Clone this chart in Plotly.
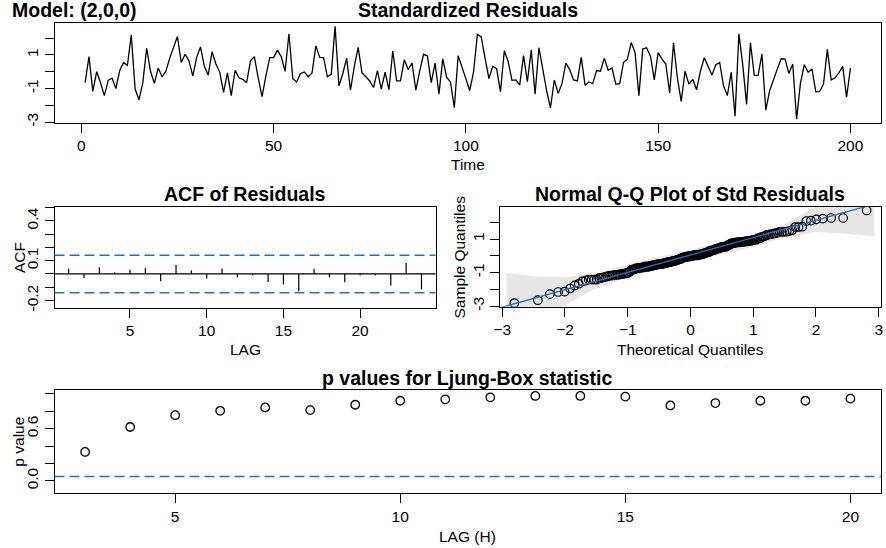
import numpy as np
import plotly.graph_objects as go
from statistics import NormalDist

# standardized residuals (t = 1..200)
resid = [
    -0.65, 0.90, -1.17, 0.00, -0.65, -1.42, -0.51, -0.38, -1.00, 0.07,
    0.55, 0.38, 2.18, -1.03, -1.67, -0.65, 1.39, 0.03, -0.69, 0.22,
    -0.30, 0.03, 0.81, 1.43, 2.10, 0.55, 1.04, 0.65, -0.26, 0.86,
    1.48, 0.32, -0.20, 1.19, 0.46, -0.03, -1.23, -0.07, -1.42, 0.09,
    -0.36, -0.45, -0.65, 0.65, 0.90, -0.36, -1.48, -0.26, 0.84, 0.84,
    1.29, 0.90, 0.03, 2.26, -0.41, -0.61, -0.10, -0.01, -0.30, -0.07,
    1.54, 0.86, 0.84, -0.30, -0.16, 2.71, -0.84, -0.12, 0.81, -1.09,
    0.32, 1.45, -0.07, -0.30, -0.55, -0.94, 0.07, -1.03, -0.03, -1.07,
    1.25, -0.55, -0.55, 0.71, 0.13, 0.52, -1.09, 0.03, 1.04, 0.94,
    -0.65, 0.52, -1.33, 0.77, -0.32, -0.61, -2.14, 0.96, 0.32, -0.41,
    -1.13, -0.03, 2.22, 2.07, 0.81, -0.41, 0.32, 0.19, -1.19, 1.25,
    0.61, -0.51, -0.49, -0.80, 0.96, -0.59, 1.29, -1.33, 1.43, 0.13,
    -1.13, -2.16, -0.49, -1.29, -0.71, 0.52, 0.13, -0.49, -0.55, 0.86,
    -0.80, -0.61, -0.71, 0.07, 0.03, 0.81, 0.09, 0.22, -0.74, -0.71,
    0.55, 0.75, 1.74, 1.15, -1.42, 1.35, 1.43, 0.94, -0.49, 1.14,
    0.75, 0.46, -1.27, 1.72, -0.36, -1.77, 0.03, -0.74, -0.45, -1.07,
    0.03, 0.84, 0.36, -0.20, 0.42, 0.55, -0.84, -1.42, -0.03, -2.65,
    2.26, 0.42, -1.95, 1.72, -0.22, -0.22, 1.06, -2.29, -1.13, -0.45,
    0.17, 0.77, 0.75, -0.10, 0.46, -2.82, -0.69, 0.42, -0.03, 0.17,
    -1.19, -1.17, -0.74, 1.33, -0.49, -0.36, -0.07, 0.32, -1.52, 0.22,
]
time = list(range(1, len(resid) + 1))

acf_lags = list(range(1, 25))
acf_vals = [0.040, -0.030, 0.050, 0.012, 0.032, 0.045, -0.055, 0.067,
            0.027, -0.035, 0.042, -0.025, -0.010, -0.060, -0.080, -0.130,
            0.040, -0.025, -0.062, -0.010, -0.010, -0.087, 0.082, -0.117]
acf_bound = 0.1414

# grey confidence band of the Q-Q plot
band_x = [-2.93, -2.5, -2.0, -1.5, -1.0, -0.5, 0.0, 0.5, 1.0, 1.5, 2.0, 2.5, 2.93]
band_hi = [-1.02, -1.22, -1.28, -1.05, -0.50, -0.05, 0.36, 0.80, 1.25, 1.90, 2.95, 3.80, 4.60]
band_lo = [-4.60, -3.80, -2.95, -1.90, -1.28, -0.80, -0.32, 0.10, 0.55, 1.10, 1.42, 1.32, 1.16]

lb_lags = list(range(3, 21))
lb_pvals = [0.333, 0.620, 0.756, 0.806, 0.845, 0.814, 0.876, 0.922, 0.938,
            0.961, 0.977, 0.977, 0.969, 0.868, 0.895, 0.922, 0.922, 0.946]
lb_level = 0.05

W, H = 886, 548
FONT = "Liberation Sans, Arial, Helvetica, sans-serif"
BLUE = "#1874CD"
TXT = 15.5   # tick labels / axis titles
TTL = 19.5   # bold panel titles


def px(x):
    return x / W


def py(y):
    return 1 - y / H


def pad(lo, hi):
    d = (hi - lo) * 0.04
    return [lo - d, hi + d]


nd = NormalDist()
n = len(resid)
theo = [nd.inv_cdf((i - 0.5) / n) for i in range(1, n + 1)]
samp = sorted(resid)
q1, q3 = np.quantile(resid, [0.25, 0.75])
z1, z3 = nd.inv_cdf(0.25), nd.inv_cdf(0.75)
slope = (q3 - q1) / (z3 - z1)
icpt = q1 - slope * z1

res_range = pad(min(resid), max(resid))
qq_xrange = pad(min(theo), max(theo))

fig = go.Figure()

# top: standardized residuals
fig.add_trace(go.Scatter(x=time, y=resid, mode="lines",
                         line=dict(color="black", width=1.3),
                         xaxis="x", yaxis="y"))

# ACF stems
sx, sy = [], []
for l, v in zip(acf_lags, acf_vals):
    sx += [l, l, None]
    sy += [0, v, None]
fig.add_trace(go.Scatter(x=sx, y=sy, mode="lines",
                         line=dict(color="black", width=1.2),
                         xaxis="x2", yaxis="y2"))

# Q-Q band, points, line
fig.add_trace(go.Scatter(x=band_x + band_x[::-1], y=band_hi + band_lo[::-1],
                         fill="toself", fillcolor="#e6e6e6", mode="lines",
                         line=dict(width=0, color="#e6e6e6"),
                         xaxis="x3", yaxis="y3"))
fig.add_trace(go.Scatter(x=theo, y=samp, mode="markers",
                         marker=dict(symbol="circle-open", size=8.5, color="black",
                                     line=dict(width=1.2)),
                         xaxis="x3", yaxis="y3"))
fig.add_trace(go.Scatter(x=qq_xrange, y=[icpt + slope * v for v in qq_xrange],
                         mode="lines", line=dict(color=BLUE, width=1.3),
                         xaxis="x3", yaxis="y3"))

# Ljung-Box p values
fig.add_trace(go.Scatter(x=lb_lags, y=lb_pvals, mode="markers",
                         marker=dict(symbol="circle-open", size=8.5, color="black",
                                     line=dict(width=1.3)),
                         xaxis="x4", yaxis="y4"))

shapes = [
    dict(type="line", xref="x2 domain", yref="y2", x0=0, x1=1, y0=0, y1=0,
         line=dict(color="black", width=1.2)),
    dict(type="line", xref="x2 domain", yref="y2", x0=0, x1=1, y0=acf_bound, y1=acf_bound,
         line=dict(color=BLUE, width=1.6, dash="10px,5px")),
    dict(type="line", xref="x2 domain", yref="y2", x0=0, x1=1, y0=-acf_bound, y1=-acf_bound,
         line=dict(color=BLUE, width=1.6, dash="10px,5px")),
    dict(type="line", xref="x4 domain", yref="y4", x0=0, x1=1, y0=lb_level, y1=lb_level,
         line=dict(color=BLUE, width=1.6, dash="10px,5px")),
]

ax = dict(showline=True, linecolor="black", linewidth=1, mirror=True,
          ticks="outside", ticklen=9, tickcolor="black", tickwidth=1,
          showgrid=False, zeroline=False, tickfont=dict(size=TXT, color="black"))
yax = dict(ax, tickangle=-90)

fig.update_layout(
    width=W, height=H, margin=dict(l=0, r=0, t=0, b=0),
    paper_bgcolor="white", plot_bgcolor="white", showlegend=False,
    font=dict(family=FONT, color="black"),
    shapes=shapes,
    xaxis=dict(ax, domain=[px(48), px(883)], anchor="y",
               range=pad(1, n), tickvals=[0, 50, 100, 150, 200]),
    yaxis=dict(yax, domain=[py(123.7), py(22.7)], anchor="x", range=res_range,
               tickvals=[-3, -2, -1, 0, 1, 2], ticktext=["-3", "", "-1", "", "1", ""]),
    xaxis2=dict(ax, domain=[px(48), px(433)], anchor="y2",
                range=pad(1, 24), tickvals=[5, 10, 15, 20]),
    yaxis2=dict(yax, domain=[py(310), py(208.3)], anchor="x2", range=[-0.255, 0.507],
                tickvals=[-0.2, -0.1, 0, 0.1, 0.2, 0.3, 0.4, 0.5],
                ticktext=["-0.2", "", "", "0.1", "", "", "0.4", ""]),
    xaxis3=dict(ax, domain=[px(498.3), px(882.7)], anchor="y3",
                range=qq_xrange, tickvals=[-3, -2, -1, 0, 1, 2, 3]),
    yaxis3=dict(yax, domain=[py(309), py(208.3)], anchor="x3", range=res_range,
                tickvals=[-3, -2, -1, 0, 1, 2], ticktext=["-3", "", "-1", "", "1", ""]),
    xaxis4=dict(ax, domain=[px(48), px(883)], anchor="y4",
                range=pad(3, 20), tickvals=[5, 10, 15, 20]),
    yaxis4=dict(yax, domain=[py(497), py(393)], anchor="x4", range=pad(-0.1, 1),
                tickvals=[0, 0.2, 0.4, 0.6, 0.8, 1.0],
                ticktext=["0.0", "", "", "0.6", "", ""]),
)


def label(text, x, y, size=TXT, bold=False, angle=0, anchor="center"):
    fig.add_annotation(text=f"<b>{text}</b>" if bold else text,
                       x=px(x), y=py(y), xref="paper", yref="paper",
                       xanchor=anchor, yanchor="middle", textangle=angle,
                       showarrow=False, font=dict(size=size, family=FONT, color="black"))


label("Model: (2,0,0)", 3, 10, size=TTL, bold=True, anchor="left")
label("Standardized Residuals", 465.5, 10, size=TTL, bold=True)
label("Time", 465.5, 166)
label("ACF of Residuals", 240.5, 195, size=TTL, bold=True)
label("LAG", 240.5, 352)
label("ACF", 12, 259, angle=-90)
label("Normal Q-Q Plot of Std Residuals", 690.5, 195, size=TTL, bold=True)
label("Theoretical Quantiles", 690.5, 352)
label("Sample Quantiles", 457, 259, angle=-90)
label("p values for Ljung-Box statistic", 465.5, 381, size=TTL, bold=True)
label("LAG (H)", 465.5, 540)
label("p value", 12, 445, angle=-90)

fig.write_html("out.html", config={"displayModeBar": False},
               post_script="document.body.style.margin='0';"
                           "document.body.style.overflow='hidden';")
